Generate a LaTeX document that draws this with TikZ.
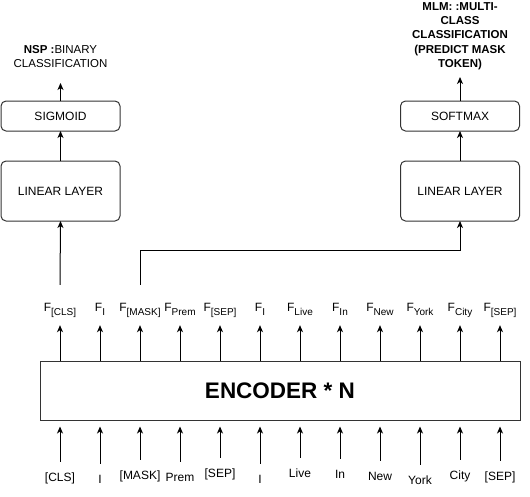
\documentclass[tikz,border=0pt]{standalone}
\usepackage{fontspec}
\setmainfont{Liberation Sans}
\usetikzlibrary{positioning, arrows.meta, calc}

% F with a lowered token name
\newcommand{\fsub}[1]{F\raisebox{-4pt}{\fontsize{10}{10}\selectfont #1}}

\begin{document}
\begin{tikzpicture}[x=1pt, y=-1pt,
    headbox/.style={draw=black!80, line width=1pt, rounded corners=5pt, minimum width=119pt, inner sep=0, outer sep=0, font=\fontsize{12}{14}\selectfont},
    encbox/.style={draw=black!80, line width=1pt, minimum width=480pt, minimum height=59pt, inner sep=0, font=\fontsize{22.5}{26}\selectfont\bfseries},
    arr/.style={line width=1pt, -{Stealth[length=7pt, width=6pt, inset=2pt]}},
    tok/.style={font=\fontsize{12}{14}\selectfont, inner sep=0, text height=19pt, anchor=base},
    fout/.style={font=\fontsize{12}{14}\selectfont, inner sep=0, text height=26pt, text depth=14pt, anchor=base},
    toplabel/.style={font=\fontsize{11.5}{14.4}\selectfont, align=center, inner sep=0}
]
\useasboundingbox (0,0) rectangle (530,496);

% NSP head
\node[headbox, minimum height=30pt] (sigL) at (60.5,116) {SIGMOID};
\node[headbox, minimum height=60pt, below=30pt of sigL] (linL) {LINEAR LAYER};
\node[toplabel, outer ysep=15pt, above=18pt of sigL] (nsp) {\textbf{NSP :}BINARY\\CLASSIFICATION};

% MLM head
\node[headbox, minimum height=30pt] (sigR) at (460,116) {SOFTMAX};
\node[headbox, minimum height=60pt, below=30pt of sigR] (linR) {LINEAR LAYER};
\node[toplabel, outer ysep=7pt, above=24pt of sigR, font=\fontsize{11.5}{14.4}\selectfont\bfseries] (mlm) {MLM: :MULTI-\\CLASS\\CLASSIFICATION\\(PREDICT MASK\\TOKEN)};

\draw[arr] (linL) -- (sigL);
\draw[arr] (sigL) -- (nsp);
\draw[arr] (linR) -- (sigR);
\draw[arr] (sigR) -- (mlm);

% Encoder
\node[encbox] (enc) at (280,390.5) {ENCODER * N};

% Tokens and outputs
\foreach \i/\x/\b/\t in {1/60/481/{[CLS]}, 2/100/483/I, 3/140/479/{[MASK]}, 4/180/481/Prem,
    5/220/477/{[SEP]}, 6/260/483/I, 7/300/477/Live, 8/340/478/In, 9/380/480/New,
    10/420/484/York, 11/460/479/City, 12/500/480/{[SEP]}} {
    \node[tok] (t\i) at (\x,\b) {\t};
    \draw[arr, shorten >=6pt] (t\i.north) -- (t\i.north |- enc.south);
    \node[fout] (f\i) at (\x,311) {\fsub{\t}};
    \draw[arr] (f\i.south |- enc.north) -- (f\i.south);
}

% Outputs to the heads
\draw[arr] (f1.north) -- (linL.south);
\draw[arr] (f3.north) -- ++(0,-34) -| (linR.south);
\end{tikzpicture}
\end{document}
